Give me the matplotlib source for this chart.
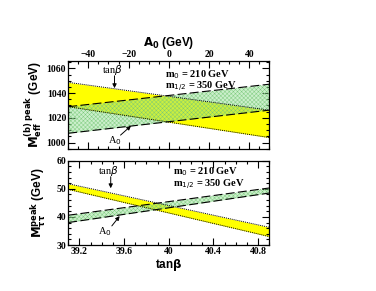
import numpy as np
import matplotlib
matplotlib.use("Agg")
import matplotlib.pyplot as plt
from matplotlib.ticker import MultipleLocator

# band edges at the two ends of the scan
a0 = [-50, 50]
tanb = [39.1, 40.9]

# top panel: M_eff^(b) peak (GeV)
meff_tanb_hi = [1048.7, 1026.2]
meff_tanb_lo = [1029.0, 1004.0]
meff_a0_hi = [1029.0, 1047.2]
meff_a0_lo = [1007.5, 1026.2]

# bottom panel: M_tautau^peak (GeV)
mtt_tanb_hi = [51.8, 36.3]
mtt_tanb_lo = [49.8, 33.0]
mtt_a0_hi = [40.6, 50.3]
mtt_a0_lo = [38.0, 48.5]

plt.rcParams['hatch.linewidth'] = 0.3
serif = 'Liberation Serif'
sans = 'Liberation Sans'

fig = plt.figure(figsize=(3.76, 2.91), dpi=100)
ax1 = fig.add_axes([0.1816, 0.489, 0.5346, 0.3014])
ax2 = fig.add_axes([0.1816, 0.158, 0.5346, 0.2897])


def bands(ax, x_t, t_hi, t_lo, x_a, a_hi, a_lo):
    ax.fill_between(x_t, t_lo, t_hi, color='#ffff00', lw=0, zorder=1)
    ax.fill_between(x_a, a_lo, a_hi, color='#8cdc8c', alpha=0.45, lw=0, zorder=2)
    ax.fill_between(x_a, a_lo, a_hi, facecolor='none', edgecolor='#78c878',
                    hatch='xxxxxxxx', lw=0, zorder=2)
    ax.plot(x_t, t_hi, color='k', ls=(0, (1, 1)), lw=0.7, zorder=3)
    ax.plot(x_t, t_lo, color='k', ls=(0, (1, 1)), lw=0.7, zorder=3)
    ax.plot(x_a, a_hi, color='k', ls=(0, (8, 3)), lw=0.8, zorder=3)
    ax.plot(x_a, a_lo, color='k', ls=(0, (8, 3)), lw=0.8, zorder=3)


def style(ax):
    ax.tick_params(which='both', direction='in', top=True, right=True,
                   width=0.8, labelsize=7, pad=1.5)
    ax.tick_params(which='major', length=5)
    ax.tick_params(which='minor', length=2.5)
    for s in ax.spines.values():
        s.set_linewidth(0.9)
    for lab in ax.get_xticklabels() + ax.get_yticklabels():
        lab.set_fontfamily(serif)
        lab.set_fontweight('bold')


def arrow_label(ax, text, tip, tail, pos):
    ax.annotate('', xy=tip, xytext=tail,
                arrowprops=dict(arrowstyle='-|>', color='k', lw=0.7,
                                mutation_scale=6, shrinkA=0, shrinkB=0))
    ax.text(pos[0], pos[1], text, ha='center', va='center',
            fontfamily=serif, fontsize=7.5)


# top panel
bands(ax1, a0, meff_tanb_hi, meff_tanb_lo, a0, meff_a0_hi, meff_a0_lo)
ax1.set_xlim(-50, 50)
ax1.set_ylim(995, 1066)
ax1.xaxis.set_major_locator(MultipleLocator(20))
ax1.xaxis.set_minor_locator(MultipleLocator(5))
ax1.yaxis.set_major_locator(MultipleLocator(20))
ax1.yaxis.set_minor_locator(MultipleLocator(5))
ax1.xaxis.tick_top()
ax1.xaxis.set_label_position('top')
ax1.set_xlabel(r'$\mathbf{A_0}$ (GeV)', fontfamily=sans, fontweight='bold',
               fontsize=8.5, labelpad=3)
ax1.set_ylabel(r'$\mathbf{M_{eff}^{(b)\ peak}}$ (GeV)', fontfamily=sans,
               fontweight='bold', fontsize=8.5, labelpad=2)
style(ax1)
ax1.tick_params(which='both', bottom=True, labelbottom=False)

ax1.text(0.48, 0.85, r'm$_0$ = 210 GeV', transform=ax1.transAxes,
         fontfamily=serif, fontweight='bold', fontsize=7.5, va='center')
ax1.text(0.48, 0.70, r'm$_{1/2}$ = 350 GeV', transform=ax1.transAxes,
         fontfamily=serif, fontweight='bold', fontsize=7.5, va='center')
arrow_label(ax1, r'tan$\beta$', (-27, 1044.0), (-27, 1054.0), (-28, 1058.5))
arrow_label(ax1, r'A$_0$', (-18.8, 1013.5), (-24, 1006.0), (-27, 1001.5))

# bottom panel
bands(ax2, tanb, mtt_tanb_hi, mtt_tanb_lo, tanb, mtt_a0_hi, mtt_a0_lo)
ax2.set_xlim(39.1, 40.9)
ax2.set_ylim(30, 60)
ax2.xaxis.set_minor_locator(MultipleLocator(0.1))
ax2.yaxis.set_major_locator(MultipleLocator(10))
ax2.yaxis.set_minor_locator(MultipleLocator(2))
ax2.set_xticks([39.2, 39.6, 40.0, 40.4, 40.8])
ax2.set_xticklabels(['39.2', '39.6', '40', '40.4', '40.8'])
ax2.set_xlabel(r'tan$\mathbf{\beta}$', fontfamily=sans, fontweight='bold',
               fontsize=8.5, labelpad=1)
ax2.set_ylabel(r'$\mathbf{M_{\tau\tau}^{peak}}$ (GeV)', fontfamily=sans,
               fontweight='bold', fontsize=8.5, labelpad=6)
style(ax2)

ax2.text(0.52, 0.87, r'm$_0$ = 210 GeV', transform=ax2.transAxes,
         fontfamily=serif, fontweight='bold', fontsize=7.5, va='center')
ax2.text(0.52, 0.71, r'm$_{1/2}$ = 350 GeV', transform=ax2.transAxes,
         fontfamily=serif, fontweight='bold', fontsize=7.5, va='center')
arrow_label(ax2, r'tan$\beta$', (39.48, 50.2), (39.48, 54.3), (39.46, 56.3))
arrow_label(ax2, r'A$_0$', (39.56, 40.3), (39.49, 36.8), (39.43, 34.8))

fig.savefig('out.png', dpi=100)
